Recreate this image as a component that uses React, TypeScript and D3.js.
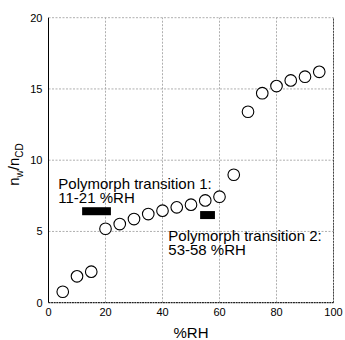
import { useEffect, useRef } from 'react'
import * as d3 from 'd3'

// Relative humidity (%RH) of each measurement
const humidity = [5, 10, 15, 20, 25, 30, 35, 40, 45, 50, 55, 60, 65, 70, 75, 80, 85, 90, 95]
// n_w / n_CD ratio
const ratio = [0.77, 1.85, 2.18, 5.19, 5.52, 5.87, 6.22, 6.46, 6.69, 6.88, 7.18, 7.44, 8.98, 13.4, 14.7, 15.2, 15.6, 15.86, 16.2]

// Polymorph transition ranges (black bars)
const transitionStart = [11.8, 53.2]
const transitionEnd = [21.9, 58.4]
const transitionLevel = [6.42, 6.15]

const xTicks = [0, 20, 40, 60, 80, 100]
const yTicks = [0, 5, 10, 15, 20]

const WIDTH = 345
const HEIGHT = 340
const margin = { top: 17.7, right: 11.5, bottom: 37.3, left: 48.5 }
const FONT = '"Liberation Sans", Arial, Helvetica, sans-serif'

export default function App() {
  const svgRef = useRef<SVGSVGElement>(null)

  useEffect(() => {
    if (!svgRef.current) return
    const svg = d3.select(svgRef.current)
    svg.selectAll('*').remove()

    const x = d3.scaleLinear().domain([0, 100]).range([margin.left, WIDTH - margin.right])
    const y = d3.scaleLinear().domain([0, 20]).range([HEIGHT - margin.bottom, margin.top])

    svg.append('rect').attr('width', WIDTH).attr('height', HEIGHT).attr('fill', '#fff')

    // grid
    const grid = svg.append('g').attr('stroke', '#9a9a9a').attr('stroke-width', 0.8).attr('stroke-dasharray', '2,1.5')
    grid.selectAll('.gx')
      .data(xTicks.slice(1))
      .enter()
      .append('line')
      .attr('x1', d => x(d)).attr('x2', d => x(d))
      .attr('y1', y(0)).attr('y2', y(20))
    grid.selectAll('.gy')
      .data(yTicks.slice(1))
      .enter()
      .append('line')
      .attr('x1', x(0)).attr('x2', x(100))
      .attr('y1', d => y(d)).attr('y2', d => y(d))

    // frame: right/bottom dotted dark, left solid
    svg.append('line')
      .attr('x1', x(100)).attr('x2', x(100)).attr('y1', y(0)).attr('y2', y(20))
      .attr('stroke', '#444').attr('stroke-width', 1).attr('stroke-dasharray', '2,1')
    svg.append('line')
      .attr('x1', x(0)).attr('x2', x(100)).attr('y1', y(0)).attr('y2', y(0))
      .attr('stroke', '#222').attr('stroke-width', 1.2).attr('stroke-dasharray', '2,0.6')
    svg.append('line')
      .attr('x1', x(0)).attr('x2', x(0)).attr('y1', y(0)).attr('y2', y(20))
      .attr('stroke', '#000').attr('stroke-width', 1)

    // tick labels
    svg.selectAll('.xt')
      .data(xTicks)
      .enter()
      .append('text')
      .attr('x', d => x(d))
      .attr('y', y(0) + 13)
      .attr('text-anchor', 'middle')
      .attr('font-family', FONT)
      .attr('font-size', 11)
      .text(d => d)
    svg.selectAll('.yt')
      .data(yTicks)
      .enter()
      .append('text')
      .attr('x', x(0) - 6)
      .attr('y', d => y(d) + 4)
      .attr('text-anchor', 'end')
      .attr('font-family', FONT)
      .attr('font-size', 11)
      .text(d => d)

    // transition bars
    const barH = 8
    svg.selectAll('.bar')
      .data(transitionStart.map((s, i) => ({ s, e: transitionEnd[i], v: transitionLevel[i] })))
      .enter()
      .append('rect')
      .attr('x', d => x(d.s))
      .attr('width', d => x(d.e) - x(d.s))
      .attr('y', d => y(d.v) - barH / 2)
      .attr('height', barH)
      .attr('fill', '#000')

    // points
    svg.selectAll('.pt')
      .data(humidity.map((h, i) => ({ h, v: ratio[i] })))
      .enter()
      .append('circle')
      .attr('cx', d => x(d.h))
      .attr('cy', d => y(d.v))
      .attr('r', 5.8)
      .attr('fill', '#fff')
      .attr('stroke', '#000')
      .attr('stroke-width', 1.1)

    // annotations
    const annotate = (lines: string[], ax: number, ay: number) => {
      const t = svg.append('text')
        .attr('font-family', FONT)
        .attr('font-size', 15)
        .attr('fill', '#000')
      lines.forEach((l, i) => {
        t.append('tspan').attr('x', ax).attr('y', ay + i * 13.8).text(l)
      })
    }
    annotate(['Polymorph transition 1:', '11-21 %RH'], 58.3, 189)
    annotate(['Polymorph transition 2:', '53-58 %RH'], 168.3, 240.7)

    // axis titles
    svg.append('text')
      .attr('x', x(50))
      .attr('y', 338)
      .attr('text-anchor', 'middle')
      .attr('font-family', FONT)
      .attr('font-size', 15)
      .text('%RH')

    const yl = svg.append('text')
      .attr('transform', 'translate(19, 164.5) rotate(-90)')
      .attr('text-anchor', 'middle')
      .attr('font-family', FONT)
      .attr('font-size', 15)
    yl.append('tspan').text('n')
    yl.append('tspan').attr('font-size', 10).attr('dy', 3.5).text('w')
    yl.append('tspan').attr('dy', -3.5).text('/n')
    yl.append('tspan').attr('font-size', 10).attr('dy', 3.5).text('CD')
  }, [])

  return (
    <svg
      ref={svgRef}
      width={WIDTH}
      height={HEIGHT}
      style={{ position: 'absolute', left: 0, top: 0, display: 'block' }}
    />
  )
}
